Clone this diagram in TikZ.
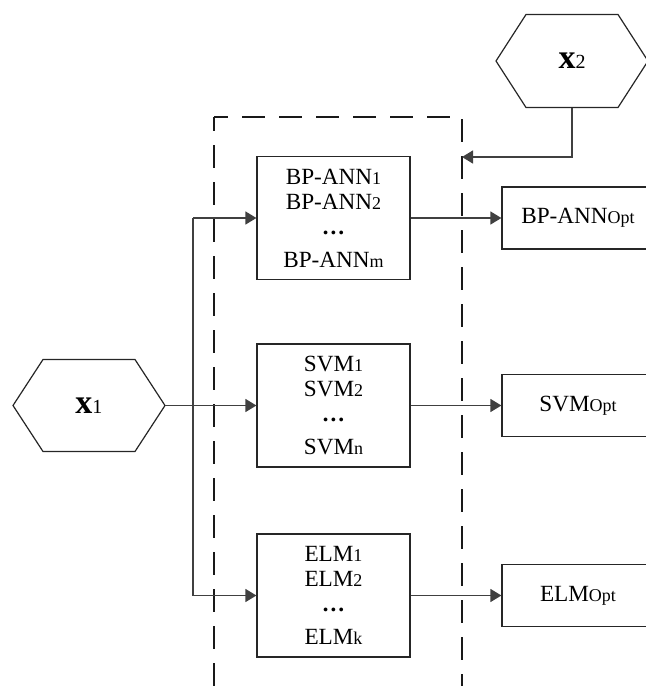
\documentclass[tikz,border=0pt]{standalone}
\usepackage{fontspec}
\setmainfont{Liberation Serif}
\usetikzlibrary{arrows.meta}
\newcommand{\smalltxt}[1]{{\fontsize{9}{9}\selectfont #1}}
\newcommand{\threedots}{\textbf{…}}
\begin{document}
\begin{tikzpicture}[x=0.5pt,y=-0.5pt, line width=0.7pt,
  box/.style={draw=black!85, line width=0.6pt, minimum width=76.5pt, minimum height=61.5pt, inner sep=0pt, align=center, font=\fontsize{11.6}{12.5}\selectfont},
  optbox/.style={draw=black!85, line width=0.6pt, minimum width=76pt, minimum height=31pt, inner sep=0pt, font=\fontsize{11.6}{12.5}\selectfont},
  conn/.style={draw=black!75, -{Triangle[length=5.5pt,width=6.5pt]}},
  plainline/.style={draw=black!75},
  dashbox/.style={draw=black!90, line width=0.8pt, dash pattern=on 11.5pt off 7pt, dash phase=4.5pt},
  hexlabel/.style={inner sep=0pt},
  hexshape/.style={draw=black!85, line width=0.6pt}
]
\path[use as bounding box, clip] (0,0) rectangle (646,686);

% dashed frame
\draw[dashbox] (214,117) -- (462,117) -- (462,700);
\draw[dashbox] (214,117) -- (214,700);

% model boxes
\node[box] (bp) at (333.5,218) {BP-ANN\smalltxt{1}\\BP-ANN\smalltxt{2}\\\threedots\\[4pt]BP-ANN\smalltxt{m}};
\node[box] (svm) at (333.5,405.5) {SVM\smalltxt{1}\\SVM\smalltxt{2}\\\threedots\\[4pt]SVM\smalltxt{n}};
\node[box] (elm) at (333.5,595.5) {ELM\smalltxt{1}\\ELM\smalltxt{2}\\\threedots\\[4pt]ELM\smalltxt{k}};

% optimal boxes
\node[optbox] (bpo) at (578,218) {BP-ANN\smalltxt{Opt}};
\node[optbox] (svmo) at (578,405.5) {SVM\smalltxt{Opt}};
\node[optbox] (elmo) at (578,595.5) {ELM\smalltxt{Opt}};

% hexagon x1
\node[hexlabel] (x1) at (89,405.5) {{\fontsize{17}{17}\selectfont\textbf{x}}{\fontsize{10}{10}\selectfont 1}};
\begin{scope}[shift={(x1.center)}]
  \draw[hexshape] (-76,0) -- (-46,-46) -- (46,-46) -- (76,0) -- (46,46) -- (-46,46) -- cycle;
  \coordinate (x1e) at (76,0);
\end{scope}

% hexagon x2
\node[hexlabel] (x2) at (572,61) {{\fontsize{17}{17}\selectfont\textbf{x}}{\fontsize{10}{10}\selectfont 2}};
\begin{scope}[shift={(x2.center)}]
  \draw[hexshape] (-76,0) -- (-46,-46.5) -- (46,-46.5) -- (76,0) -- (46,46.5) -- (-46,46.5) -- cycle;
  \coordinate (x2b) at (0,46.5);
\end{scope}

% connectors
\coordinate (dashR) at (462,157);
\draw[conn] (x2b) |- (dashR);

\coordinate (tTop) at (193,218);
\coordinate (tBot) at (193,595.5);
\draw[plainline] (tTop) -- (tBot);
\draw[conn] (tTop) -- (bp.west);
\draw[conn] (tBot) -- (elm.west);
\draw[conn] (x1e) -- (svm.west);

\draw[conn] (bp.east) -- (bpo.west);
\draw[conn] (svm.east) -- (svmo.west);
\draw[conn] (elm.east) -- (elmo.west);
\end{tikzpicture}
\end{document}
